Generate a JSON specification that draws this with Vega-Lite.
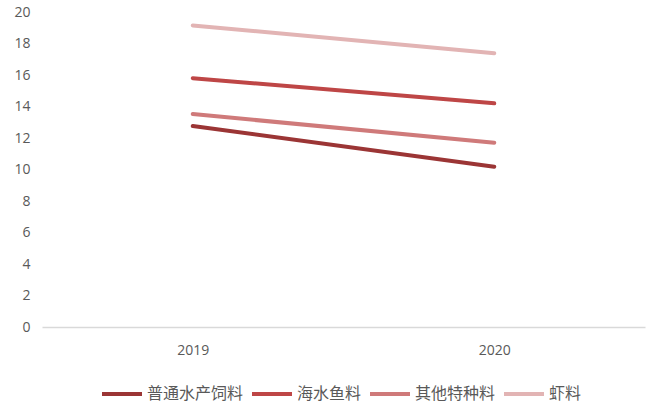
{
  "$schema": "https://vega.github.io/schema/vega-lite/v6.json",
  "width": 603,
  "height": 315,
  "autosize": {"type": "none"},
  "padding": {"left": 42, "top": 12, "right": 6, "bottom": 76},
  "background": "white",
  "config": {"view": {"stroke": null}, "font": "Noto Sans CJK SC"},
  "data": {
    "values": [
      {"year": "2019", "series": "普通水产饲料", "value": 12.76},
      {"year": "2020", "series": "普通水产饲料", "value": 10.18},
      {"year": "2019", "series": "海水鱼料", "value": 15.8},
      {"year": "2020", "series": "海水鱼料", "value": 14.2},
      {"year": "2019", "series": "其他特种料", "value": 13.52},
      {"year": "2020", "series": "其他特种料", "value": 11.7},
      {"year": "2019", "series": "虾料", "value": 19.15},
      {"year": "2020", "series": "虾料", "value": 17.38}
    ]
  },
  "mark": {"type": "line", "strokeWidth": 4, "strokeCap": "round"},
  "encoding": {
    "x": {
      "field": "year", "type": "ordinal", "title": null,
      "scale": {"type": "point", "padding": 0.5},
      "axis": {"labelAngle": 0, "ticks": false, "domainColor": "#D9D9D9", "domainWidth": 1.5, "labelColor": "#595959", "labelFontSize": 14, "labelPadding": 16, "grid": false, "labelFont": "Open Sans"}
    },
    "y": {
      "field": "value", "type": "quantitative", "title": null,
      "scale": {"domain": [0, 20]},
      "axis": {"values": [0,2,4,6,8,10,12,14,16,18,20], "domain": false, "ticks": false, "grid": false, "labelColor": "#595959", "labelFontSize": 14, "labelPadding": 12, "labelFont": "Open Sans"}
    },
    "color": {
      "field": "series", "type": "nominal", "title": null,
      "sort": ["普通水产饲料", "海水鱼料", "其他特种料", "虾料"],
      "scale": {"domain": ["普通水产饲料", "海水鱼料", "其他特种料", "虾料"], "range": ["#9B3535", "#BE4646", "#CF7A7A", "#E2B4B4"]},
      "legend": {"orient": "none", "legendX": 58, "legendY": 360, "direction": "horizontal", "symbolType": "stroke", "symbolSize": 1600, "symbolStrokeWidth": 4, "labelFontSize": 16, "labelColor": "#595959", "columnPadding": 0, "labelOffset": 3}
    }
  }
}
